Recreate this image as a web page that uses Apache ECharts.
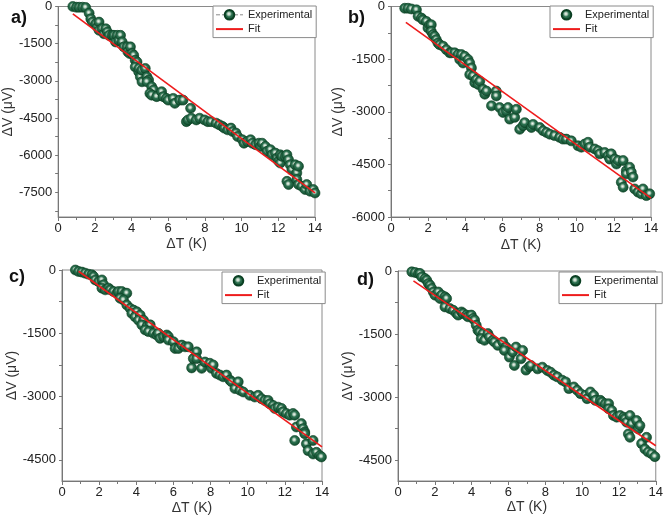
<!DOCTYPE html>
<html>
<head>
<meta charset="utf-8">
<script src="https://cdn.jsdelivr.net/npm/echarts@6/dist/echarts.min.js"></script>
<style>
html,body{margin:0;padding:0;background:#fff;}
#chart{width:666px;height:519px;}
</style>
</head>
<body>
<div id="chart"></div>
<script>
// ---- Panel a ----
const aX = [0.8,1.0,1.15,1.33,1.5,1.69,1.78,1.87,2.05,2.14,2.23,2.23,2.4,2.5,2.6,2.68,2.77,2.95,3.04,3.13,3.22,3.3,3.4,3.49,3.58,3.76,3.8,3.9,3.94,4.03,4.12,4.2,4.3,4.2,4.39,4.4,4.48,4.56,4.57,4.75,4.84,4.93,4.84,5.1,5.2,5.0,5.1,5.37,5.64,5.73,5.9,6.0,6.27,6.36,6.63,6.81,7.22,6.99,7.08,7.26,7.53,7.71,7.98,8.16,8.34,8.61,8.79,8.97,9.06,9.24,9.42,9.51,9.69,9.78,10.04,10.13,10.31,10.49,10.58,10.76,10.94,11.03,11.12,11.3,11.39,11.57,11.66,11.84,11.93,12.02,12.11,12.11,12.2,12.38,12.47,12.56,12.65,12.47,12.56,12.74,12.92,13.01,13.1,13.01,13.1,13.28,13.46,13.55,13.73,13.91,14.0];
const aY = [0,-30,-30,-30,-40,-270,-500,-630,-700,-830,-630,-960,-900,-1100,-900,-1030,-1165,-1165,-1165,-1430,-1165,-1370,-1165,-1430,-1630,-1630,-1830,-1900,-1630,-1900,-1970,-2170,-2240,-2440,-2640,-2500,-2840,-2570,-3040,-2500,-2840,-2970,-3040,-3240,-3370,-3510,-3580,-3640,-3440,-3640,-3710,-3780,-3710,-3910,-3780,-3780,-4110,-4650,-4580,-4510,-4580,-4510,-4580,-4650,-4650,-4710,-4780,-4850,-4910,-4980,-4910,-5050,-5110,-5250,-5380,-5520,-5450,-5380,-5520,-5580,-5520,-5650,-5520,-5650,-5850,-5780,-5990,-5920,-6120,-6250,-6320,-5990,-6050,-6050,-5990,-6190,-6390,-7060,-7190,-6590,-6390,-6720,-6450,-6990,-7190,-7260,-7390,-7190,-7460,-7390,-7530];
const aFitX = [0.8, 14];
const aFitY = [-295, -7530];
const aYLabels = [0,-1500,-3000,-4500,-6000,-7500];
const aYTicks = [0,-750,-1500,-2250,-3000,-3750,-4500,-5250,-6000,-6750,-7500,-8250];

// ---- Panel b ----
const bX = [0.74,0.92,1.1,1.37,1.46,1.64,1.72,1.9,1.99,2.08,2.17,2.17,2.26,2.35,2.44,2.53,2.62,2.8,2.98,3.16,3.25,3.43,3.61,3.7,3.79,3.88,3.97,4.15,4.24,4.33,4.24,4.42,4.51,4.6,4.69,4.78,4.96,5.05,5.14,5.41,5.67,5.67,5.85,6.03,6.21,6.3,6.39,6.66,6.75,6.93,7.11,7.2,7.56,7.65,8.01,8.19,8.37,8.55,8.81,9.08,9.26,9.44,9.71,10.07,10.25,10.43,10.61,10.7,10.97,11.15,11.24,11.51,11.69,11.78,11.86,12.05,12.14,12.23,12.4,12.5,12.5,12.67,12.67,12.85,12.94,13.03,13.12,13.3,13.48,13.57,13.75,13.93];
const bY = [-50,-50,-70,-95,-280,-330,-380,-425,-610,-520,-520,-710,-800,-850,-945,-1040,-1090,-1130,-1230,-1320,-1320,-1320,-1370,-1510,-1370,-1610,-1420,-1510,-1610,-1750,-1940,-1980,-2170,-2080,-2220,-2130,-2360,-2500,-2410,-2830,-2410,-2550,-2880,-3020,-2980,-2880,-3210,-3160,-2930,-3500,-3400,-3310,-3450,-3360,-3450,-3540,-3590,-3640,-3680,-3730,-3780,-3780,-3830,-3970,-4010,-3920,-3870,-4010,-4060,-4110,-4200,-4160,-4250,-4350,-4200,-4350,-4490,-4390,-5010,-5150,-4390,-4680,-4770,-4580,-4720,-4860,-5200,-5290,-5340,-5200,-5390,-5340];
const bFitX = [0.8, 14];
const bFitY = [-450, -5460];
const bYLabels = [0,-1500,-3000,-4500,-6000];
const bYTicks = [0,-750,-1500,-2250,-3000,-3750,-4500,-5250,-6000];

// ---- Panel c ----
const cX = [0.72,0.89,1.07,1.25,1.43,1.61,1.7,1.79,1.97,2.15,2.24,2.15,2.33,2.5,2.6,2.77,2.95,3.04,3.22,3.4,3.49,3.13,3.31,3.49,3.67,3.85,3.76,4.03,3.94,4.21,4.12,4.39,4.3,4.57,4.75,4.48,4.66,4.92,5.1,5.19,5.28,5.46,5.64,5.73,5.73,6.0,6.09,6.27,6.45,6.63,6.8,6.98,7.07,7.25,7.25,7.52,7.7,7.96,8.05,8.14,8.32,8.5,8.68,8.86,9.04,9.13,9.31,9.49,9.58,9.76,10.11,10.38,10.56,10.74,10.92,11.1,11.19,11.37,11.46,11.64,11.82,11.9,12.08,12.26,12.44,12.53,12.53,12.62,12.89,12.98,13.07,13.07,13.16,13.25,13.52,13.52,13.7,13.88,13.97];
const cY = [0,-35,-50,-75,-100,-115,-155,-235,-275,-235,-350,-430,-470,-430,-470,-510,-550,-510,-510,-550,-550,-670,-710,-830,-910,-950,-1030,-990,-1110,-1070,-1190,-1190,-1300,-1340,-1300,-1420,-1460,-1500,-1540,-1500,-1620,-1580,-1540,-1580,-1660,-1700,-1860,-1860,-1780,-1820,-1820,-2320,-2100,-1940,-2100,-2330,-2180,-2210,-2330,-2250,-2450,-2490,-2530,-2490,-2610,-2650,-2810,-2650,-2850,-2890,-2970,-3010,-2970,-3050,-3090,-3090,-3170,-3210,-3280,-3250,-3280,-3360,-3400,-3440,-3400,-3440,-4040,-3720,-3640,-3760,-3840,-3880,-4120,-4280,-4040,-4360,-4320,-4400,-4430];
const cFitX = [0.89, 14];
const cFitY = [-30, -4190];
const cYLabels = [0,-1500,-3000,-4500];
const cYTicks = [0,-750,-1500,-2250,-3000,-3750,-4500];

// ---- Panel d ----
const dX = [0.75,0.93,1.11,1.2,1.29,1.47,1.56,1.65,1.74,1.83,1.92,2.01,2.19,2.28,2.37,2.55,2.64,2.55,2.82,3.0,3.18,3.27,3.45,3.54,3.72,3.8,3.98,4.07,4.16,4.25,4.34,4.43,4.61,4.52,4.7,4.88,4.97,5.15,5.24,5.42,5.69,5.87,5.78,6.05,6.23,6.32,6.41,6.68,6.77,6.95,7.13,7.22,7.58,7.84,8.11,8.29,8.47,8.65,8.92,9.1,9.28,9.55,9.73,9.91,10.18,10.27,10.45,10.63,10.72,10.99,11.08,11.26,11.44,11.44,11.61,11.7,11.88,12.06,12.25,12.33,12.42,12.51,12.6,12.6,12.69,12.96,13.05,13.14,13.23,13.41,13.5,13.59,13.77,13.95];
const dY = [-20,-35,-60,-60,-140,-180,-220,-300,-340,-415,-500,-575,-500,-655,-575,-615,-655,-855,-895,-935,-1010,-1050,-975,-1010,-1050,-1090,-1050,-1130,-1170,-1290,-1410,-1450,-1490,-1610,-1650,-1490,-1570,-1650,-1690,-1770,-1690,-1810,-1890,-2050,-1930,-2250,-1810,-2090,-1890,-2360,-2280,-2250,-2330,-2290,-2370,-2410,-2480,-2520,-2600,-2640,-2800,-2760,-2840,-2920,-2960,-3040,-2880,-2960,-3080,-3080,-3120,-3160,-3160,-3280,-3320,-3440,-3480,-3440,-3480,-3520,-3600,-3880,-3960,-3440,-3640,-3560,-3760,-3680,-4110,-4240,-3960,-4310,-4350,-4420];
const dFitX = [0.84, 14];
const dFitY = [-234, -4160];
const dYLabels = [0,-1500,-3000,-4500];
const dYTicks = [0,-750,-1500,-2250,-3000,-3750,-4500];

const FONT = '"Liberation Sans", Arial, sans-serif';
const sphere = {
  type: 'radial', x: 0.45, y: 0.42, r: 0.6,
  colorStops: [
    {offset: 0, color: '#f2f7f3'},
    {offset: 0.2, color: '#b4cdbb'},
    {offset: 0.42, color: '#2c7150'},
    {offset: 1, color: '#0c4628'}
  ]
};

function pairs(xs, ys){ return xs.map((x,i)=>[x, ys[i]]); }

const panels = [
  {key:'a', grid:{left:55, top:6, width:260, height:211}, ymin:-8500, labels:aYLabels, ticks:aYTicks, X:aX, Y:aY, fx:aFitX, fy:aFitY, line:true, yGap:41, xGap:20, legend:{left:213, top:6}},
  {key:'b', grid:{left:391, top:5, width:260, height:212}, ymin:-6000, labels:bYLabels, ticks:bYTicks, X:bX, Y:bY, fx:bFitX, fy:bFitY, line:false, yGap:46, xGap:21, legend:{left:550, top:6}},
  {key:'c', grid:{left:62, top:270, width:260, height:211}, ymin:-5000, labels:cYLabels, ticks:cYTicks, X:cX, Y:cY, fx:cFitX, fy:cFitY, line:false, yGap:40, xGap:20, legend:{left:222, top:272}},
  {key:'d', grid:{left:398, top:271, width:260, height:210}, ymin:-5000, labels:dYLabels, ticks:dYTicks, X:dX, Y:dY, fx:dFitX, fy:dFitY, line:false, yGap:43, xGap:19, legend:{left:559, top:272}}
];

const option = {
  animation: false,
  backgroundColor: '#fff',
  textStyle: {fontFamily: FONT},
  grid: [], xAxis: [], yAxis: [], series: [], legend: [],
  graphic: []
};

panels.forEach((p, i) => {
  option.grid.push(Object.assign({show:true, borderColor:'#8a8a8a', borderWidth:1, backgroundColor:'transparent', containLabel:false}, p.grid));
  option.xAxis.push({
    type:'value', gridIndex:i, min:0, max:14, interval:2,
    name:'ΔT (K)', nameLocation:'middle', nameGap:p.xGap,
    nameTextStyle:{fontSize:14, color:'#333', fontFamily:FONT},
    axisLine:{show:true, onZero:false, lineStyle:{color:'#777'}},
    axisTick:{show:true, inside:false, length:4, lineStyle:{color:'#777'}},
    minorTick:{show:true, splitNumber:2, length:3, lineStyle:{color:'#777'}},
    axisLabel:{fontSize:13, color:'#222', margin:5, fontFamily:FONT, formatter: v => String(v)},
    splitLine:{show:false}
  });
  option.yAxis.push({
    type:'value', gridIndex:i, min:p.ymin, max:0,
    name:'ΔV (μV)', nameLocation:'middle', nameGap:p.yGap,
    nameTextStyle:{fontSize:14, color:'#333', fontFamily:FONT},
    axisLine:{show:true, onZero:false, lineStyle:{color:'#777'}},
    axisTick:{show:true, inside:false, length:3, customValues:p.ticks, lineStyle:{color:'#777'}},
    axisLabel:{fontSize:13, color:'#222', margin:6, customValues:p.labels, fontFamily:FONT, formatter: v => String(v)},
    splitLine:{show:false}
  });
  const expName = 'Experimental_' + p.key;
  const fitName = 'Fit_' + p.key;
  option.series.push({
    name: expName, type:'line', xAxisIndex:i, yAxisIndex:i,
    data: pairs(p.X, p.Y),
    symbol:'circle', symbolSize:10, showSymbol:true,
    lineStyle: p.line ? {color:'#8a8a8a', width:1, type:'dashed'} : {width:0, opacity:0},
    itemStyle:{color:sphere, borderColor:'#0a3f22', borderWidth:0.6},
    z:2
  });
  option.series.push({
    name: fitName, type:'line', xAxisIndex:i, yAxisIndex:i,
    data: pairs(p.fx, p.fy),
    symbol:'none', showSymbol:false, lineStyle:{color:'#ee1c1c', width:1.6}, itemStyle:{color:'#ee1c1c'},
    z:3
  });
  option.legend.push({
    data:[
      p.line ? {name: expName, lineStyle:{type:[4,2], color:'#8a8a8a', width:1}} : {name: expName},
      {name: fitName, itemStyle:{opacity:0, borderWidth:0}, lineStyle:{color:'#ee1c1c', width:2, opacity:1}}
    ],
    orient:'vertical', left:p.legend.left, top:p.legend.top,
    itemWidth:27, itemHeight:12, itemGap:3, padding:[3,4,3,2],
    borderColor:'#8a8a8a', borderWidth:1, backgroundColor:'#fff',
    selectedMode:false,
    formatter: n => n.split('_')[0],
    textStyle:{fontSize:11, color:'#222', fontFamily:FONT}
  });
});

const panelLabels = [
  {t:'a)', x:11, y:9}, {t:'b)', x:348, y:9}, {t:'c)', x:9, y:268}, {t:'d)', x:357, y:271}
];
panelLabels.forEach(l => option.graphic.push({
  type:'text', left:l.x, top:l.y,
  style:{text:l.t, font:'bold 18px ' + FONT, fill:'#111'}
}));

const chart = echarts.init(document.getElementById('chart'), null, {renderer:'canvas'});
chart.setOption(option);
</script>
</body>
</html>
